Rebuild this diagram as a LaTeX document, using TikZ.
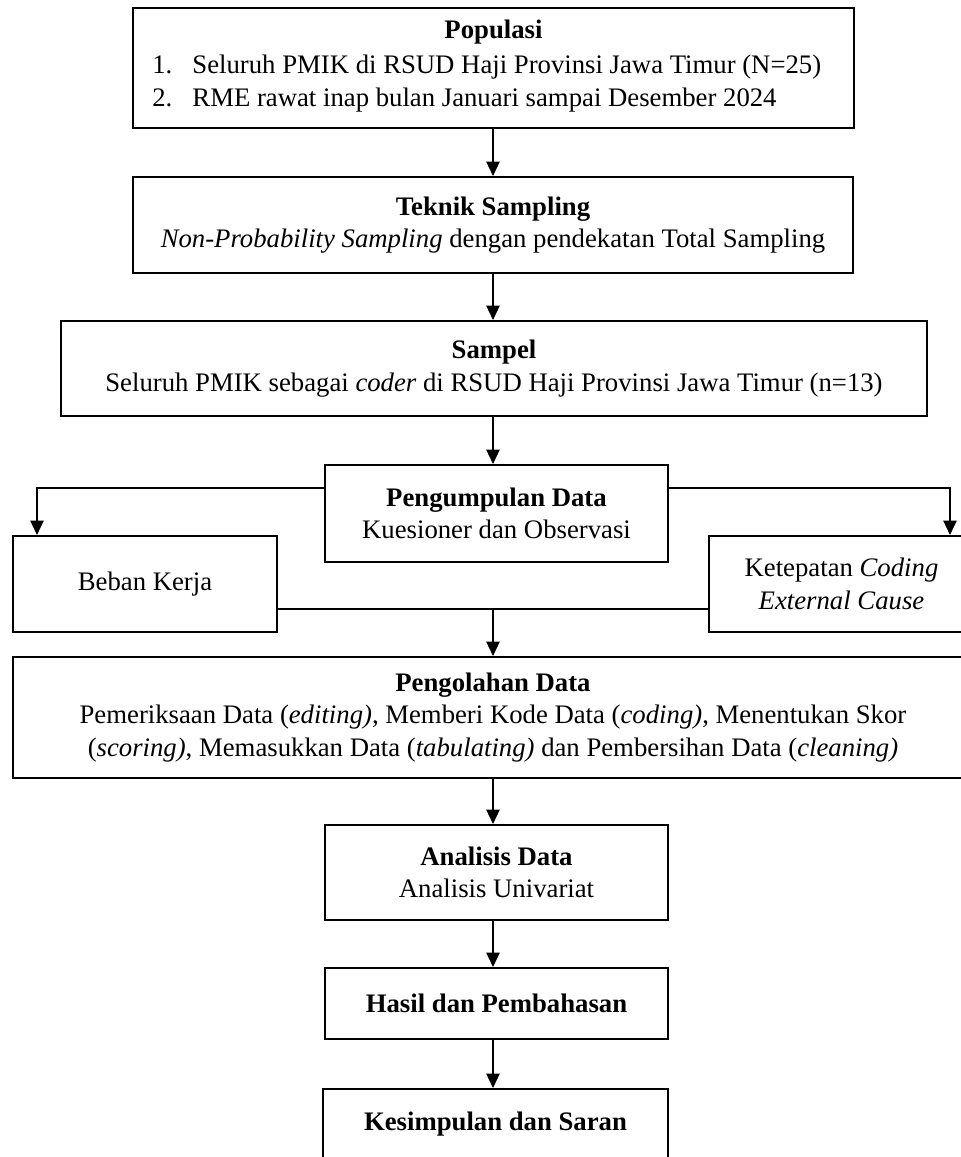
\documentclass[tikz,border=0pt]{standalone}
\usepackage{fontspec}
\setmainfont{Liberation Serif}
\usetikzlibrary{arrows.meta}
\newcommand{\upx}{0.449pt}

\begin{document}
\begin{tikzpicture}[x=\upx, y=-\upx,
    kotak/.style={rectangle, draw, line width=0.95pt, align=center, inner sep=2pt,
      font=\fontsize{12pt}{14.6pt}\selectfont},
    panah/.style={-{Triangle[length=6.4pt,width=6pt]}, line width=0.5pt},
    garis/.style={line width=0.5pt}]
  \clip (0,0) rectangle (961,1157);

  % Alur penelitian
  \node[kotak, minimum width=721*\upx, minimum height=120*\upx] (populasi) at (493.5,68)
    {\textbf{Populasi}\\[2pt]
     \begin{tabular}{@{}l@{\hspace{9pt}}l@{}}
       1. & Seluruh PMIK di RSUD Haji Provinsi Jawa Timur (N=25)\\
       2. & RME rawat inap bulan Januari sampai Desember 2024
     \end{tabular}\hspace*{6pt}};
  \node[kotak, minimum width=720*\upx, minimum height=96*\upx] (teknik) at (493,225)
    {\textbf{Teknik Sampling}\\ \textit{Non-Probability Sampling} dengan pendekatan Total Sampling};
  \node[kotak, minimum width=866*\upx, minimum height=95*\upx] (sampel) at (494,368.5)
    {\textbf{Sampel}\\ Seluruh PMIK sebagai \textit{coder} di RSUD Haji Provinsi Jawa Timur (n=13)};
  \node[kotak, minimum width=343*\upx, minimum height=97*\upx] (kumpul) at (496.5,513.5)
    {\textbf{Pengumpulan Data}\\ Kuesioner dan Observasi};
  \node[kotak, minimum width=264*\upx, minimum height=96*\upx] (beban) at (145,584)
    {Beban Kerja};
  \node[kotak, minimum width=265*\upx, minimum height=96*\upx] (tepat) at (841.5,584)
    {Ketepatan \textit{Coding}\\ \textit{External Cause}};
  \node[kotak, minimum width=960*\upx, minimum height=121*\upx] (olah) at (493,717.5)
    {\textbf{Pengolahan Data}\\
     Pemeriksaan Data (\textit{editing)}, Memberi Kode Data (\textit{coding)}, Menentukan Skor\\
     (\textit{scoring)}, Memasukkan Data (\textit{tabulating)} dan Pembersihan Data (\textit{cleaning)}};
  \node[kotak, minimum width=343*\upx, minimum height=95*\upx] (analisis) at (496.5,872.5)
    {\textbf{Analisis Data}\\ Analisis Univariat};
  \node[kotak, minimum width=343*\upx, minimum height=71*\upx] (hasil) at (496.5,1003.5)
    {\textbf{Hasil dan Pembahasan}};
  \node[kotak, minimum width=345*\upx, minimum height=71*\upx] (simpul) at (495.5,1124.5)
    {\textbf{Kesimpulan dan Saran}};

  % Titik bantu
  \coordinate (poros) at (493,0);
  \coordinate (cabangkiri) at (37,488);
  \coordinate (cabangkanan) at (950,488);
  \coordinate (gabung) at (493,609);

  % Panah utama
  \draw[panah] (populasi.south -| poros) -- (teknik.north -| poros);
  \draw[panah] (teknik.south -| poros) -- (sampel.north -| poros);
  \draw[panah] (sampel.south -| poros) -- (kumpul.north -| poros);
  \draw[panah] (olah.south -| poros) -- (analisis.north -| poros);
  \draw[panah] (analisis.south -| poros) -- (hasil.north -| poros);
  \draw[panah] (hasil.south -| poros) -- (simpul.north -| poros);

  % Percabangan pengumpulan data
  \draw[panah] (kumpul.west |- cabangkiri) -- (cabangkiri) -- (cabangkiri |- beban.north);
  \draw[panah] (kumpul.east |- cabangkanan) -- (cabangkanan) -- (cabangkanan |- tepat.north);
  \draw[garis] (beban.east |- gabung) -- (tepat.west |- gabung);
  \draw[panah] (gabung) -- (gabung |- olah.north);
\end{tikzpicture}
\end{document}
